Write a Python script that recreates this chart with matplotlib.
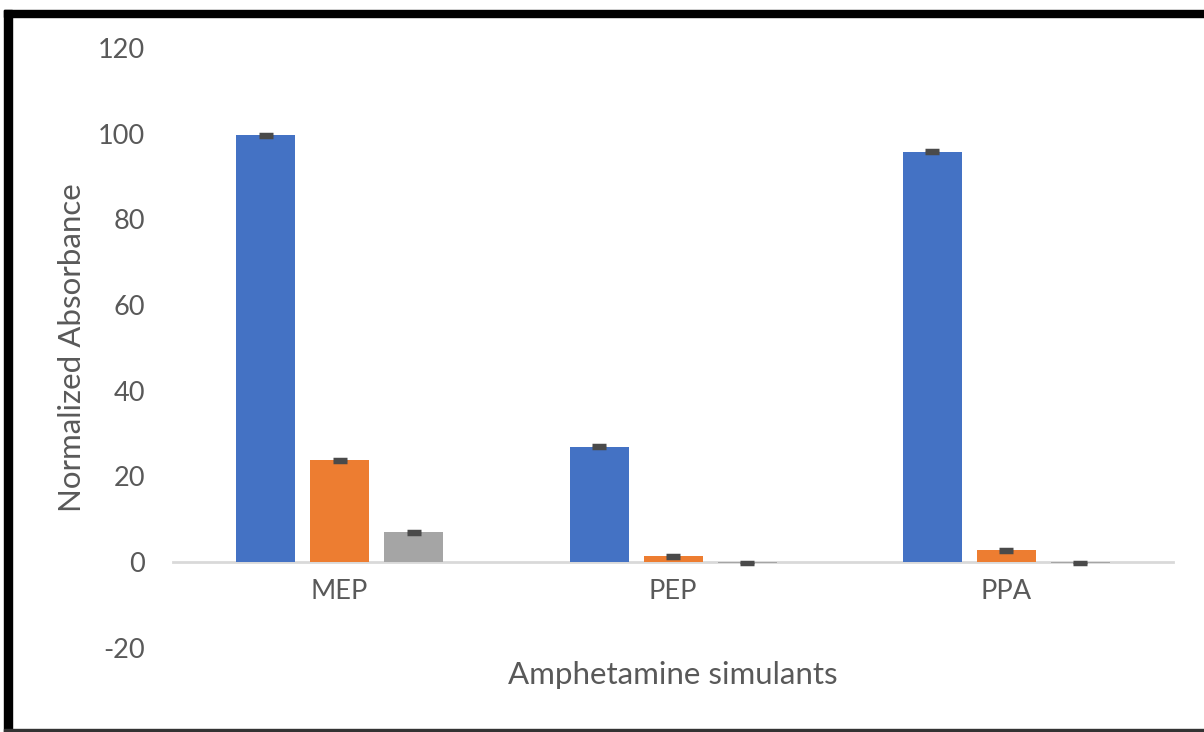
import matplotlib.pyplot as plt
import numpy as np
from matplotlib.patches import Rectangle

plt.rcParams['font.family'] = ['Lato', 'DejaVu Sans']
plt.rcParams['axes.unicode_minus'] = False

categories = ['MEP', 'PEP', 'PPA']
series1 = [99.6, 26.9, 95.8]
series2 = [23.8, 1.3, 2.8]
series3 = [6.9, -0.2, -0.2]
err1 = [0.35, 0.35, 0.35]
err2 = [0.35, 0.35, 0.35]
err3 = [0.35, 0.25, 0.25]

colors = ['#4472C4', '#ED7D31', '#A5A5A5']
text_color = '#595959'

fig = plt.figure(figsize=(12.04, 7.32), dpi=100)
ax = fig.add_axes([173 / 1204, 1 - 647.7 / 732, 1000 / 1204, (647.7 - 48) / 732])

x = np.arange(len(categories))
step = 0.222
width = 0.177
for i, (vals, errs) in enumerate(zip([series1, series2, series3], [err1, err2, err3])):
    ax.bar(x + (i - 1) * step, vals, width, color=colors[i], zorder=2,
           yerr=errs, error_kw=dict(ecolor='#4a4a4a', elinewidth=2.5, capsize=5, capthick=2.5, zorder=3))

ax.set_xlim(-0.5, 2.5)
ax.set_ylim(-20, 120)
ax.set_yticks(np.arange(-20, 121, 20))
ax.set_xticks(x)
ax.set_xticklabels(categories)

for s in ['top', 'right', 'left']:
    ax.spines[s].set_visible(False)
ax.spines['bottom'].set_position(('data', 0))
ax.spines['bottom'].set_color('#D9D9D9')
ax.spines['bottom'].set_linewidth(2)
ax.spines['bottom'].set_zorder(1)

ax.tick_params(axis='y', length=0, pad=20, labelsize=19.5, labelcolor=text_color)
ax.tick_params(axis='x', length=0, pad=12, labelsize=19.5, labelcolor=text_color)

ax.set_xlabel('Amphetamine simulants', fontsize=22.5, color=text_color)
ax.xaxis.set_label_coords(0.5, -0.045)
ax.xaxis.label.set_verticalalignment('center')
ax.set_ylabel('Normalized Absorbance', fontsize=22.5, color=text_color)
ax.yaxis.set_label_coords(-0.101, 0.5)
ax.yaxis.label.set_verticalalignment('center')

# frame around the picture
fig.patches.append(Rectangle((4 / 1204, 0), 8 / 1204, 1 - 10 / 732, transform=fig.transFigure,
                             color='black', zorder=10))
fig.patches.append(Rectangle((4 / 1204, 1 - 17 / 732), 1, 7 / 732, transform=fig.transFigure,
                             color='black', zorder=10))
fig.patches.append(Rectangle((4 / 1204, 0), 1, 3 / 732, transform=fig.transFigure,
                             color='#333333', zorder=10))

fig.savefig('out.png', dpi=100)
